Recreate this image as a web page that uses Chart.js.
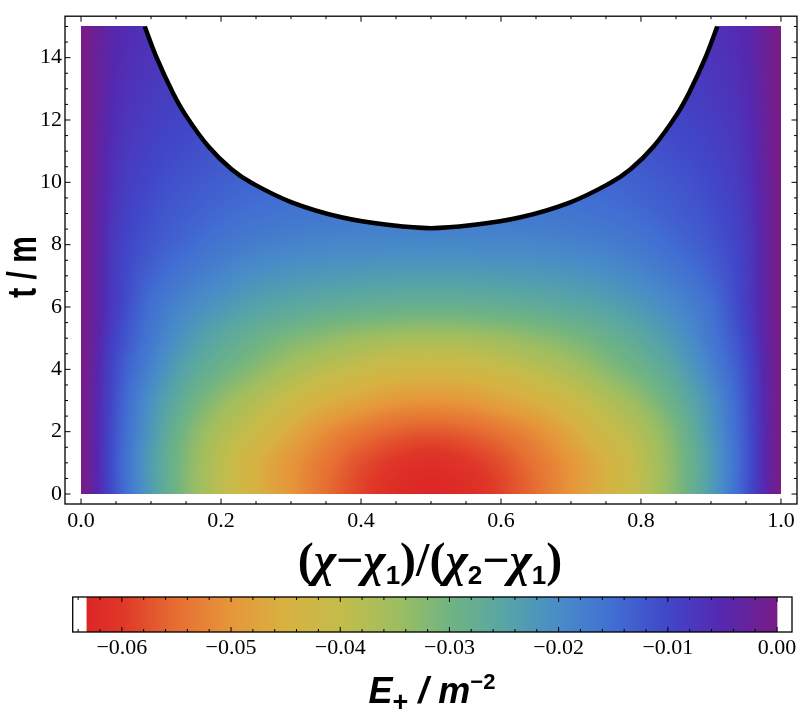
<!DOCTYPE html>
<html>
<head>
<meta charset="utf-8">
<script src="https://cdn.jsdelivr.net/npm/chart.js@4"></script>
<style>
body{margin:0;background:#fff}
#wrap{position:relative;width:800px;height:716px}
canvas{position:absolute;left:0}
#main{top:0}
#bar{top:590px}
</style>
</head>
<body>
<div id="wrap">
<canvas id="main" width="800" height="590"></canvas>
<canvas id="bar" width="800" height="126"></canvas>
</div>
<script>
// grid of the density plot: columns at xs, rows at ts (values of E+)
var xs = [0,0.05,0.1,0.15,0.2,0.25,0.3,0.35,0.4,0.45,0.5,0.55,0.6,0.65,0.7,0.75,0.8,0.85,0.9,0.95,1];
var ts = [0,1,2,3,4,5,6,7,8,9,10,11,12,13,14,15];

var E_t0  = [0,-.012,-.023,-.032,-.039,-.045,-.050,-.055,-.059,-.062,-.063,-.062,-.059,-.055,-.050,-.045,-.039,-.032,-.023,-.012,0];
var E_t1  = [0,-.0123,-.0234,-.032,-.0388,-.0449,-.0498,-.0541,-.0578,-.0603,-.0615,-.0603,-.0578,-.0541,-.0498,-.0449,-.0388,-.032,-.0234,-.0123,0];
var E_t2  = [0,-.012,-.0222,-.0308,-.037,-.0415,-.0465,-.051,-.054,-.0561,-.057,-.0561,-.054,-.051,-.0465,-.0415,-.037,-.0308,-.0222,-.012,0];
var E_t3  = [0,-.0115,-.021,-.028,-.0335,-.0375,-.0415,-.045,-.0475,-.0495,-.050,-.0495,-.0475,-.045,-.0415,-.0375,-.0335,-.028,-.021,-.0115,0];
var E_t4  = [0,-.0108,-.0185,-.025,-.0292,-.0327,-.0361,-.0387,-.0409,-.0426,-.043,-.0426,-.0409,-.0387,-.0361,-.0327,-.0292,-.025,-.0185,-.0108,0];
var E_t5  = [0,-.0097,-.0166,-.022,-.0259,-.0288,-.0313,-.0331,-.0346,-.0356,-.036,-.0356,-.0346,-.0331,-.0313,-.0288,-.0259,-.022,-.0166,-.0097,0];
var E_t6  = [0,-.0086,-.0154,-.0194,-.0222,-.0245,-.0259,-.0271,-.0279,-.0284,-.0285,-.0284,-.0279,-.0271,-.0259,-.0245,-.0222,-.0194,-.0154,-.0086,0];
var E_t7  = [0,-.0085,-.0136,-.0167,-.019,-.0209,-.0219,-.0226,-.023,-.0234,-.0235,-.0234,-.023,-.0226,-.0219,-.0209,-.019,-.0167,-.0136,-.0085,0];
var E_t8  = [0,-.0082,-.0121,-.0144,-.0164,-.0177,-.0185,-.0191,-.0193,-.0195,-.0195,-.0195,-.0193,-.0191,-.0185,-.0177,-.0164,-.0144,-.0121,-.0082,0];
var E_t9  = [0,-.0076,-.0111,-.0129,-.0144,-.0155,-.0161,-.0165,-.0166,-.0168,-.0168,-.0168,-.0166,-.0165,-.0161,-.0155,-.0144,-.0129,-.0111,-.0076,0];
var E_t10 = [0,-.007,-.0102,-.0119,-.0131,-.014,-.0144,-.0147,-.0149,-.015,-.015,-.015,-.0149,-.0147,-.0144,-.014,-.0131,-.0119,-.0102,-.007,0];
var E_t11 = [0,-.0065,-.0093,-.0108,-.0119,-.0126,-.013,-.0132,-.0134,-.0135,-.0135,-.0135,-.0134,-.0132,-.013,-.0126,-.0119,-.0108,-.0093,-.0065,0];
var E_t12 = [0,-.006,-.0085,-.0098,-.0108,-.0114,-.0118,-.012,-.0121,-.0122,-.0122,-.0122,-.0121,-.012,-.0118,-.0114,-.0108,-.0098,-.0085,-.006,0];
var E_t13 = [0,-.0055,-.0078,-.009,-.0099,-.0105,-.0108,-.011,-.0111,-.0112,-.0112,-.0112,-.0111,-.011,-.0108,-.0105,-.0099,-.009,-.0078,-.0055,0];
var E_t14 = [0,-.0051,-.0072,-.0083,-.0092,-.0097,-.01,-.0102,-.0103,-.0104,-.0104,-.0104,-.0103,-.0102,-.01,-.0097,-.0092,-.0083,-.0072,-.0051,0];
var E_t15 = [0,-.0048,-.0068,-.0078,-.0086,-.009,-.0093,-.0095,-.0096,-.0097,-.0097,-.0097,-.0096,-.0095,-.0093,-.009,-.0086,-.0078,-.0068,-.0048,0];
var grid = [E_t0,E_t1,E_t2,E_t3,E_t4,E_t5,E_t6,E_t7,E_t8,E_t9,E_t10,E_t11,E_t12,E_t13,E_t14,E_t15];

// black curve (white region above it)
var hx = [0.091,0.108,0.130,0.149,0.182,0.215,0.244,0.301,0.372,0.444,0.500,0.556,0.628,0.699,0.756,0.785,0.818,0.851,0.870,0.892,0.909];
var ht = [15.0,14.0,12.93,12.17,11.15,10.42,9.98,9.36,8.88,8.62,8.53,8.62,8.88,9.36,9.98,10.42,11.15,12.17,12.93,14.0,15.0];

var xTicks = [0,0.2,0.4,0.6,0.8,1.0];
var yTicks = [0,2,4,6,8,10,12,14];
var cbTicks = [-0.06,-0.05,-0.04,-0.03,-0.02,-0.01,0];

// colour scale
var cbValues = [-0.0632,-0.06,-0.055,-0.05,-0.045,-0.04,-0.035,-0.03,-0.025,-0.02,-0.015,-0.01,-0.005,0];
var cbColors = ['#dc2626','#df3728','#e66e32','#e6963a','#d7b241','#c3bc4b','#a0be5f','#70b482','#58a5a5','#488cc8','#416ed2','#4146c8','#5528af','#781c87'];

var cbMin = cbValues[0], cbMax = cbValues[cbValues.length-1];
var rgb = cbColors.map(function(h){ return [parseInt(h.substr(1,2),16),parseInt(h.substr(3,2),16),parseInt(h.substr(5,2),16)]; });

function colorFor(v){
  if (v <= cbValues[0]) return rgb[0];
  var n = cbValues.length;
  if (v >= cbValues[n-1]) return rgb[n-1];
  for (var k=0;k<n-1;k++){
    if (v < cbValues[k+1]){
      var f = (v-cbValues[k])/(cbValues[k+1]-cbValues[k]);
      var a = rgb[k], b = rgb[k+1];
      return [a[0]+(b[0]-a[0])*f, a[1]+(b[1]-a[1])*f, a[2]+(b[2]-a[2])*f];
    }
  }
  return rgb[n-1];
}

function cr(p0,p1,p2,p3,u){
  return p1 + 0.5*u*(p2-p0 + u*(2*p0-5*p1+4*p2-p3 + u*(3*(p1-p2)+p3-p0)));
}
function clampi(i,lo,hi){ return i<lo?lo:(i>hi?hi:i); }
function sample(xv,tv){
  var nx = xs.length, nt = ts.length;
  var fx = (xv-xs[0])/(xs[1]-xs[0]), ft = (tv-ts[0])/(ts[1]-ts[0]);
  var i = clampi(Math.floor(fx),0,nx-2), j = clampi(Math.floor(ft),0,nt-2);
  var u = fx-i, w = ft-j;
  function g(a,b){ return grid[clampi(b,0,nt-1)][clampi(a,0,nx-1)]; }
  var col = [];
  for (var k=-1;k<=2;k++) col.push(cr(g(i-1,j+k),g(i,j+k),g(i+1,j+k),g(i+2,j+k),u));
  return cr(col[0],col[1],col[2],col[3],w);
}

var densityPlugin = {
  id:'density',
  beforeDatasetsDraw: function(chart){
    var ctx = chart.ctx, x = chart.scales.x, y = chart.scales.y;
    var px0 = Math.round(x.getPixelForValue(xs[0])), px1 = Math.round(x.getPixelForValue(xs[xs.length-1]));
    var py0 = Math.round(y.getPixelForValue(ts[ts.length-1])), py1 = Math.round(y.getPixelForValue(ts[0]));
    var w = px1-px0, h = py1-py0;
    var off = document.createElement('canvas'); off.width = w; off.height = h;
    var octx = off.getContext('2d');
    var img = octx.createImageData(w,h);
    for (var j=0;j<h;j++){
      var tv = y.getValueForPixel(py0+j+0.5);
      for (var i=0;i<w;i++){
        var xv = x.getValueForPixel(px0+i+0.5);
        var c = colorFor(sample(xv,tv));
        var o = (j*w+i)*4;
        img.data[o]=c[0]; img.data[o+1]=c[1]; img.data[o+2]=c[2]; img.data[o+3]=255;
      }
    }
    octx.putImageData(img,0,0);
    ctx.drawImage(off,px0,py0);
  }
};

function richText(ctx, parts, cx, base){
  var w = 0;
  parts.forEach(function(p){ ctx.font = p[1]; p.w = ctx.measureText(p[0]).width; w += p.w; });
  var x = cx - w/2;
  ctx.textAlign = 'left'; ctx.textBaseline = 'alphabetic'; ctx.fillStyle = '#000';
  parts.forEach(function(p){ ctx.font = p[1]; ctx.fillText(p[0], x, base + (p[2]||0)); x += p.w; });
}

var framePlugin = {
  id:'frame',
  afterDraw: function(chart){
    var ctx = chart.ctx, a = chart.chartArea, x = chart.scales.x, y = chart.scales.y;
    ctx.save();
    ctx.strokeStyle = '#000';
    ctx.lineWidth = 1.3;
    ctx.strokeRect(a.left, a.top, a.right-a.left, a.bottom-a.top);
    ctx.lineWidth = 1;
    ctx.beginPath();
    for (var k=0;k<=20;k++){
      var p = x.getPixelForValue(k*0.05), L = (k%4===0)?5.5:3;
      ctx.moveTo(p,a.bottom); ctx.lineTo(p,a.bottom-L);
      ctx.moveTo(p,a.top); ctx.lineTo(p,a.top+L);
    }
    for (var k=0;k<=30;k++){
      var q = y.getPixelForValue(k*0.5), M = (k%4===0)?5.5:3;
      ctx.moveTo(a.left,q); ctx.lineTo(a.left+M,q);
      ctx.moveTo(a.right,q); ctx.lineTo(a.right-M,q);
    }
    ctx.stroke();

    // axis titles
    var SER = 'bold 48px "Liberation Serif"', CHI = 'bold italic 48px "Liberation Serif"', SUB = 'bold 26px "Liberation Sans"';
    richText(ctx, [['(',SER],['\u03c7',CHI],['\u2212',SER],['\u03c7',CHI],['1',SUB,8],[')/(',SER],['\u03c7',CHI],['2',SUB,8],['\u2212',SER],['\u03c7',CHI],['1',SUB,8],[')',SER]], 430, 576);

    ctx.translate(25, 267);
    ctx.rotate(-Math.PI/2);
    ctx.scale(0.75, 1);
    ctx.font = 'bold 40px "Liberation Sans"';
    ctx.textAlign = 'center'; ctx.textBaseline = 'middle'; ctx.fillStyle = '#000';
    ctx.fillText('t / m', 0, 0);
    ctx.restore();
  }
};

new Chart(document.getElementById('main'), {
  type: 'line',
  data: {
    datasets: [{
      data: hx.map(function(v,i){ return {x:v, y:ht[i]}; }),
      borderColor: '#000',
      borderWidth: 4.5,
      pointRadius: 0,
      tension: 0.4,
      fill: 'end',
      backgroundColor: '#fff'
    }]
  },
  options: {
    responsive: false,
    animation: false,
    events: [],
    layout: {padding: {left:0, right:3, top:15, bottom:0}},
    plugins: {legend:{display:false}, tooltip:{enabled:false}},
    scales: {
      x: {
        type: 'linear', min: -0.0229, max: 1.0229,
        afterBuildTicks: function(s){ s.ticks = xTicks.map(function(v){ return {value:v}; }); },
        afterFit: function(s){ s.height = 86; },
        grid: {display:false, drawTicks:false}, border: {display:false},
        ticks: {font:{family:'Liberation Serif', size:22}, color:'#000', padding:4, maxRotation:0, autoSkip:false,
          callback: function(v){ return v.toFixed(1); }}
      },
      y: {
        type: 'linear', min: -0.32, max: 15.33,
        afterBuildTicks: function(s){ s.ticks = yTicks.map(function(v){ return {value:v}; }); },
        afterFit: function(s){ s.width = 65; },
        grid: {display:false, drawTicks:false}, border: {display:false},
        ticks: {font:{family:'Liberation Serif', size:22}, color:'#000', padding:3, autoSkip:false,
          callback: function(v){ return String(v); }}
      }
    }
  },
  plugins: [densityPlugin, framePlugin]
});

// colour bar
var barFrame = {
  id:'barFrame',
  afterDraw: function(chart){
    var ctx = chart.ctx, a = chart.chartArea, x = chart.scales.x;
    ctx.save();
    ctx.strokeStyle = '#000';
    ctx.lineWidth = 1.3;
    ctx.strokeRect(a.left, a.top, a.right-a.left, a.bottom-a.top);
    ctx.lineWidth = 1;
    ctx.beginPath();
    for (var k=0;k<=32;k++){
      var v = -0.064 + k*0.002;
      var p = x.getPixelForValue(v), L = ((k-2)%5===0)?5:3;
      ctx.moveTo(p,a.bottom); ctx.lineTo(p,a.bottom-L);
      ctx.moveTo(p,a.top); ctx.lineTo(p,a.top+L);
    }
    ctx.stroke();
    var BI = 'bold italic 36px "Liberation Sans"';
    richText(ctx, [['E',BI],['+','bold 27px "Liberation Sans"',8],[' / ',BI],['m',BI],['\u22122','bold 22px "Liberation Sans"',-14]], 432, 113);
    ctx.restore();
  }
};

new Chart(document.getElementById('bar'), {
  type: 'bar',
  data: {
    labels: ['E'],
    datasets: [{
      data: [[cbMin, cbMax]],
      borderWidth: 0,
      barPercentage: 1,
      categoryPercentage: 1,
      backgroundColor: function(c){
        var ch = c.chart, sx = ch.scales.x;
        if (!sx) return '#fff';
        var p0 = sx.getPixelForValue(cbMin), p1 = sx.getPixelForValue(cbMax);
        if (!isFinite(p0) || !isFinite(p1)) return '#fff';
        var g = ch.ctx.createLinearGradient(p0,0,p1,0);
        cbValues.forEach(function(v,i){ g.addColorStop((v-cbMin)/(cbMax-cbMin), cbColors[i]); });
        return g;
      }
    }]
  },
  options: {
    indexAxis: 'y',
    responsive: false,
    animation: false,
    events: [],
    layout: {padding: {left:72.7, right:8, top:7, bottom:0}},
    plugins: {legend:{display:false}, tooltip:{enabled:false}},
    scales: {
      x: {
        type: 'linear', min: -0.0645, max: 0.00137,
        afterBuildTicks: function(s){ s.ticks = cbTicks.map(function(v){ return {value:v}; }); },
        afterFit: function(s){ s.height = 84; },
        grid: {display:false, drawTicks:false}, border: {display:false},
        ticks: {font:{family:'Liberation Serif', size:22}, color:'#000', padding:3, maxRotation:0, autoSkip:false,
          callback: function(v){ return v === 0 ? '0.00' : '\u2212' + Math.abs(v).toFixed(2); }}
      },
      y: {display:false}
    }
  },
  plugins: [barFrame]
});
</script>
</body>
</html>
